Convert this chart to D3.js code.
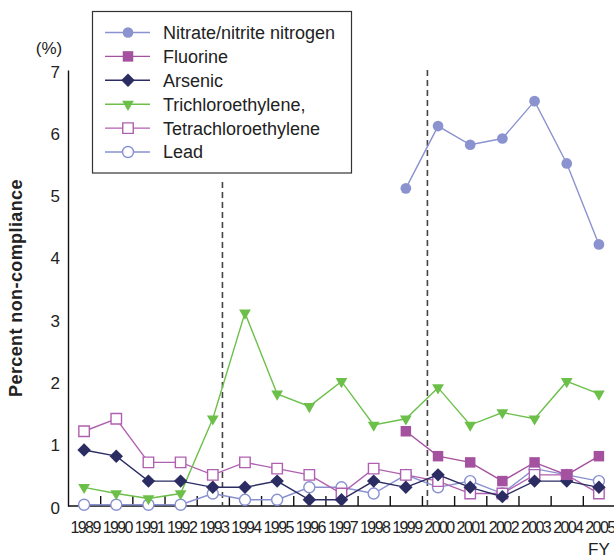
<!DOCTYPE html>
<html>
<head>
<meta charset="utf-8">
<script src="https://cdn.jsdelivr.net/npm/d3@7"></script>
<style>
    body { margin: 0; background: #fff; }
    svg { font-family: 'Liberation Sans', Arial, sans-serif; }
</style>
</head>
<body>
<svg id="chart"></svg>
<script>
const years = [1989, 1990, 1991, 1992, 1993, 1994, 1995, 1996, 1997, 1998, 1999, 2000, 2001, 2002, 2003, 2004, 2005];
const yticks = [0, 1, 2, 3, 4, 5, 6, 7];
const nitrate = [null, null, null, null, null, null, null, null, null, null, 5.1, 6.1, 5.8, 5.9, 6.5, 5.5, 4.2];
const fluorine = [null, null, null, null, null, null, null, null, null, null, 1.2, 0.8, 0.7, 0.4, 0.7, 0.5, 0.8];
const arsenic = [0.9, 0.8, 0.4, 0.4, 0.3, 0.3, 0.4, 0.1, 0.1, 0.4, 0.3, 0.5, 0.3, 0.15, 0.4, 0.4, 0.3];
const trichloro = [0.3, 0.2, 0.12, 0.2, 1.4, 3.1, 1.8, 1.6, 2.0, 1.3, 1.4, 1.9, 1.3, 1.5, 1.4, 2.0, 1.8];
const tetrachloro = [1.2, 1.4, 0.7, 0.7, 0.5, 0.7, 0.6, 0.5, 0.2, 0.6, 0.5, 0.4, 0.2, 0.2, 0.5, 0.5, 0.2];
const lead = [0.02, 0.02, 0.02, 0.02, 0.2, 0.1, 0.1, 0.3, 0.3, 0.2, 0.5, 0.3, 0.4, 0.2, 0.6, 0.5, 0.4];
const dividers = [1993.3, 1999.67];

// legend order; z is the draw order
const series = [
    {name: 'Nitrate/nitrite nitrogen', values: nitrate, color: '#8a93cf', symbol: d3.symbolCircle, size: 90, fill: true, z: 5},
    {name: 'Fluorine', values: fluorine, color: '#a4529f', symbol: d3.symbolSquare, size: 110, fill: true, z: 4},
    {name: 'Arsenic', values: arsenic, color: '#2b2d62', symbol: d3.symbolSquare, size: 90, fill: true, z: 3, rot: 45},
    {name: 'Trichloroethylene,', values: trichloro, color: '#6cc04a', symbol: d3.symbolTriangle, size: 60, fill: true, z: 2, rot: 180},
    {name: 'Tetrachloroethylene', values: tetrachloro, color: '#b060b0', symbol: d3.symbolSquare, size: 110, fill: false, z: 1},
    {name: 'Lead', values: lead, color: '#8890d0', symbol: d3.symbolCircle, size: 95, fill: false, z: 0}
];

const width = 614, height = 560;
const svg = d3.select('#chart').attr('width', width).attr('height', height);

const xscale = d3.scaleLinear().domain([1988.5, 2005.5]).range([68, 615]);
const yscale = d3.scaleLinear().domain([0, 7]).range([506, 70]);

// axes
const xaxis = d3.axisBottom(xscale)
    .tickValues(years.map(y => y + 0.5))
    .tickSize(-10)
    .tickFormat('');
svg.append('g')
    .attr('transform', `translate(0, ${yscale(0)})`)
    .call(xaxis)
    .call(g => g.select('.domain').attr('d', `M68,0H614`).attr('stroke', '#111').attr('stroke-width', 1.6))
    .call(g => g.selectAll('.tick line').attr('stroke', '#111').attr('stroke-width', 1.4));

const yaxis = d3.axisLeft(yscale).tickValues(yticks).tickFormat(d3.format('d')).tickSize(0).tickPadding(8);
svg.append('g')
    .attr('transform', `translate(68, 0)`)
    .call(yaxis)
    .call(g => g.select('.domain').attr('stroke', '#111').attr('stroke-width', 1.4))
    .call(g => g.selectAll('.tick text')
        .attr('dy', '0.42em')
        .style('font-size', '17px')
        .attr('fill', '#222'));

// year labels
svg.append('g').selectAll('text')
    .data(years)
    .join('text')
    .attr('x', d => xscale(d) + 1)
    .attr('y', 533)
    .attr('text-anchor', 'middle')
    .style('font-size', '16px')
    .style('letter-spacing', '-1.6px')
    .attr('fill', '#222')
    .text(d => d);

svg.append('text')
    .attr('x', 588).attr('y', 555)
    .style('font-size', '17px')
    .attr('fill', '#222')
    .text('FY');

svg.append('text')
    .attr('x', 49).attr('y', 54)
    .attr('text-anchor', 'middle')
    .style('font-size', '17px')
    .attr('fill', '#222')
    .text('(%)');

svg.append('text')
    .attr('transform', `translate(22, 288) rotate(-90)`)
    .attr('text-anchor', 'middle')
    .style('font-size', '18px')
    .style('font-weight', 'bold')
    .style('letter-spacing', '0.4px')
    .attr('fill', '#222')
    .text('Percent non-compliance');

// dashed dividers
svg.append('g').selectAll('line')
    .data(dividers)
    .join('line')
    .attr('x1', d => xscale(d)).attr('x2', d => xscale(d))
    .attr('y1', (d, i) => i == 0 ? 182 : yscale(7))
    .attr('y2', yscale(0))
    .attr('stroke', '#444')
    .attr('stroke-width', 1.6)
    .attr('stroke-dasharray', '6,4');

// lines and markers
const line = d3.line()
    .defined(d => d != null)
    .x((d, i) => xscale(years[i]))
    .y(d => yscale(d));

const sym = s => d3.symbol().type(s.symbol).size(s.size);
const rot = s => s.rot ? ` rotate(${s.rot})` : '';

series.slice().sort((a, b) => a.z - b.z).forEach(s => {
    const g = svg.append('g');
    g.append('path')
        .attr('d', line(s.values))
        .attr('fill', 'none')
        .attr('stroke', s.color)
        .attr('stroke-width', 1.4);
    g.selectAll('path.mark')
        .data(years.map((y, i) => ({year: y, value: s.values[i]})).filter(d => d.value != null))
        .join('path')
        .attr('class', 'mark')
        .attr('d', sym(s))
        .attr('transform', d => `translate(${xscale(d.year)}, ${yscale(d.value)})${rot(s)}`)
        .attr('fill', s.fill ? s.color : '#fff')
        .attr('stroke', s.color)
        .attr('stroke-width', s.fill ? 0 : 1.4);
});

// legend
const legend = svg.append('g');
legend.append('rect')
    .attr('x', 92.5).attr('y', 11.5)
    .attr('width', 259).attr('height', 161.5)
    .attr('fill', '#fff')
    .attr('stroke', '#333')
    .attr('stroke-width', 1.2);

const rows = legend.selectAll('g.row')
    .data(series)
    .join('g')
    .attr('class', 'row')
    .attr('transform', (d, i) => `translate(0, ${32.5 + i * 23.9})`);

rows.append('line')
    .attr('x1', 105).attr('x2', 150)
    .attr('stroke', d => d.color)
    .attr('stroke-width', 1.4);

rows.append('path')
    .attr('d', d => sym(d)())
    .attr('transform', d => `translate(128, 0)${rot(d)}`)
    .attr('fill', d => d.fill ? d.color : '#fff')
    .attr('stroke', d => d.color)
    .attr('stroke-width', d => d.fill ? 0 : 1.4);

rows.append('text')
    .attr('x', 163)
    .attr('dy', '0.36em')
    .style('font-size', '18px')
    .attr('fill', '#222')
    .text(d => d.name);
</script>
</body>
</html>
